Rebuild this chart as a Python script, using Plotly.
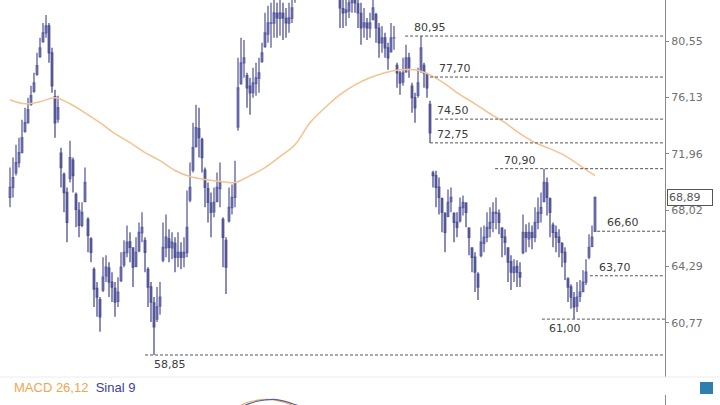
import math
import plotly.graph_objects as go

# ---------------- data ----------------
bar_open = [68.89, 69.58, 70.60, 71.33, 72.04, 73.60, 74.23, 75.60, 76.60, 77.90,
            79.30, 80.50, 81.21, 81.77, 79.60, 76.20, 74.50, 72.00, 70.50, 69.23,
            70.20, 71.50, 69.10, 68.00, 67.00, 68.60, 67.40, 66.10, 64.10, 62.90,
            62.20, 62.80, 63.70, 64.20, 63.30, 62.90, 62.10, 63.40, 64.40, 65.20,
            65.90, 65.50, 64.30, 65.30, 66.50, 66.00, 64.10, 63.00, 62.00, 61.00,
            61.80, 64.70, 65.50, 66.10, 65.50, 65.80, 64.90, 65.20, 64.90, 65.20,
            68.70, 70.80, 72.50, 73.80, 73.00, 70.80, 69.50, 68.50, 67.90, 68.60,
            69.50, 67.40, 66.00, 67.30, 68.20, 68.90, 73.90, 77.20, 78.80, 77.80,
            77.00, 76.50, 77.20, 77.60, 78.90, 80.10, 81.10, 82.00, 82.00, 82.80,
            82.40, 82.80, 82.40, 82.00, 82.40, 84.00, 85.00, 86.00, 86.90, 87.50,
            88.00, 87.60, 87.20, 87.80, 88.20, 87.00, 86.40, 86.00, 85.60, 85.20,
            84.80, 83.20, 82.90, 83.00, 83.70, 84.00, 83.60, 82.80, 81.70, 82.00,
            81.60, 82.30, 82.70, 81.60, 80.40, 80.80, 80.00, 79.70, 80.80, 78.60,
            78.00, 77.30, 78.10, 79.20, 77.00, 76.10, 76.30, 78.20, 78.60, 77.90,
            75.60, 70.60, 70.40, 69.60, 68.80, 67.80, 67.60, 68.60, 67.80, 67.20,
            67.30, 68.20, 68.50, 66.80, 65.50, 64.90, 63.80, 65.00, 65.80, 66.20,
            66.80, 67.20, 67.80, 67.80, 66.80, 66.20, 65.50, 64.60, 63.90, 64.30,
            63.90, 65.20, 66.50, 66.10, 66.50, 66.20, 67.20, 67.80, 68.60, 69.90,
            68.80, 67.00, 66.50, 66.20, 65.80, 65.20, 63.50, 63.00, 62.30, 61.80,
            62.40, 62.70, 63.30, 64.90, 65.60, 66.60]

bar_high = [70.98, 71.69, 72.62, 73.13, 74.45, 75.35, 76.11, 77.02, 78.03, 79.60,
            80.81, 82.02, 82.68, 82.02, 80.00, 76.72, 76.26, 72.40, 70.62, 69.58,
            72.91, 71.69, 69.23, 68.55, 68.55, 70.98, 67.53, 66.20, 64.25, 63.30,
            62.36, 64.89, 65.02, 64.57, 63.93, 63.30, 63.61, 65.21, 66.00, 66.99,
            66.53, 65.54, 66.20, 67.19, 67.87, 66.20, 64.25, 63.30, 62.36, 62.99,
            63.30, 67.19, 67.73, 66.73, 66.53, 66.20, 66.53, 65.87, 66.20, 69.37,
            71.33, 74.23, 75.58, 75.35, 73.13, 70.98, 69.93, 69.23, 69.58, 70.62,
            71.33, 67.53, 66.20, 69.58, 69.79, 71.47, 79.21, 80.81, 80.64, 78.03,
            77.64, 78.42, 78.81, 79.21, 80.40, 82.85, 83.43, 83.68, 84.27, 83.68,
            84.35, 83.68, 83.26, 83.68, 84.52, 86.24, 87.20, 87.80, 88.40, 88.90,
            89.20, 88.80, 88.50, 89.00, 88.60, 88.00, 87.50, 87.00, 86.60, 86.20,
            84.95, 84.52, 84.27, 84.78, 85.12, 84.78, 84.10, 83.68, 83.26, 82.43,
            82.85, 84.10, 82.85, 82.02, 81.77, 81.21, 80.40, 82.02, 81.77, 78.81,
            78.18, 79.21, 80.24, 79.60, 77.25, 76.49, 78.42, 80.95, 78.81, 78.03,
            75.88, 70.75, 70.75, 70.27, 68.89, 67.87, 69.44, 69.58, 67.87, 67.87,
            68.89, 69.03, 68.55, 66.86, 65.54, 65.21, 63.93, 66.86, 66.99, 67.87,
            68.21, 68.55, 68.89, 68.07, 66.86, 66.73, 65.54, 65.02, 64.76, 64.70,
            64.57, 67.73, 67.06, 67.19, 66.99, 68.21, 68.89, 69.23, 70.90, 70.27,
            68.89, 67.19, 66.99, 66.73, 65.87, 65.54, 63.61, 63.17, 62.67, 63.30,
            63.43, 64.06, 64.76, 66.40, 66.99, 68.95]

bar_low = [68.21, 68.89, 70.41, 70.98, 72.04, 73.49, 74.23, 75.50, 76.49, 77.80,
           79.21, 80.40, 80.81, 78.81, 76.49, 73.13, 74.23, 69.58, 67.87, 65.87,
           69.93, 69.23, 66.86, 66.20, 66.86, 68.55, 65.21, 64.57, 61.75, 61.14,
           60.23, 62.67, 63.30, 62.36, 62.05, 61.14, 61.75, 63.30, 64.25, 64.89,
           64.57, 62.99, 64.25, 65.21, 65.87, 63.93, 61.75, 60.83, 58.85, 60.83,
           61.26, 64.57, 64.89, 64.57, 64.76, 63.93, 64.25, 64.12, 64.25, 64.89,
           68.55, 70.62, 72.40, 71.69, 70.62, 68.21, 67.19, 66.20, 67.53, 68.55,
           68.21, 64.25, 62.55, 67.19, 67.73, 68.21, 73.64, 77.10, 77.64, 75.35,
           74.82, 76.11, 76.26, 76.49, 78.81, 80.00, 80.40, 80.00, 80.81, 80.81,
           80.97, 80.64, 80.81, 81.21, 82.02, 83.68, 84.80, 85.40, 86.00, 86.50,
           86.70, 86.30, 86.00, 86.60, 86.20, 85.60, 85.20, 84.80, 84.60, 84.40,
           81.61, 81.61, 81.77, 82.43, 82.85, 82.85, 81.61, 80.24, 80.81, 80.64,
           80.81, 82.27, 80.40, 79.21, 79.60, 79.21, 78.26, 79.60, 79.84, 76.87,
           76.34, 77.02, 78.03, 77.64, 74.97, 74.23, 76.11, 78.03, 76.87, 76.11,
           72.75, 69.58, 68.21, 67.73, 66.53, 65.21, 67.53, 67.87, 65.87, 66.20,
           67.19, 67.66, 66.86, 65.02, 63.93, 62.67, 62.18, 64.89, 65.21, 65.87,
           66.20, 66.53, 66.73, 66.40, 64.89, 65.02, 63.30, 62.80, 63.30, 62.99,
           62.99, 65.08, 65.21, 65.54, 65.41, 65.87, 66.73, 67.19, 68.55, 67.66,
           66.20, 65.54, 65.21, 64.89, 64.25, 63.43, 62.05, 61.63, 61.00, 61.44,
           62.05, 62.67, 63.11, 64.76, 65.54, 66.60]

bar_close = [69.58, 70.27, 71.33, 72.04, 73.13, 74.23, 75.20, 76.26, 77.25, 78.58,
             80.00, 81.21, 81.77, 79.60, 77.02, 74.23, 75.35, 70.98, 69.23, 67.19,
             71.69, 70.41, 68.07, 66.99, 67.87, 69.93, 66.33, 65.21, 62.86, 62.36,
             61.14, 63.61, 64.25, 63.30, 62.99, 62.05, 62.67, 64.25, 65.21, 65.87,
             65.54, 64.25, 65.21, 66.53, 66.86, 65.21, 62.99, 62.05, 60.53, 61.75,
             62.36, 65.54, 66.20, 65.54, 65.87, 64.89, 65.21, 64.89, 65.21, 66.86,
             69.58, 72.40, 73.86, 73.13, 71.69, 69.58, 68.55, 67.87, 68.55, 69.58,
             69.93, 66.20, 64.25, 68.21, 68.89, 69.93, 76.87, 78.81, 79.21, 76.87,
             76.49, 77.25, 77.64, 78.03, 79.60, 81.21, 82.02, 82.02, 82.85, 82.43,
             82.85, 82.43, 82.02, 82.43, 83.26, 84.95, 86.00, 86.90, 87.50, 88.00,
             87.60, 87.20, 87.80, 88.20, 87.00, 86.40, 86.00, 85.60, 85.20, 85.00,
             83.26, 82.85, 83.09, 83.68, 84.10, 83.68, 82.85, 81.61, 82.02, 81.61,
             82.02, 83.26, 81.61, 80.40, 80.81, 80.00, 79.21, 80.81, 80.81, 78.03,
             77.25, 78.03, 79.21, 78.42, 76.11, 75.35, 77.25, 80.00, 78.03, 76.87,
             73.49, 70.41, 69.58, 68.89, 67.87, 66.53, 68.55, 68.89, 67.19, 66.86,
             68.21, 68.55, 67.87, 66.20, 64.89, 63.93, 62.99, 65.87, 66.20, 66.86,
             67.19, 67.87, 67.87, 67.19, 66.20, 65.87, 64.57, 63.93, 64.25, 63.93,
             63.61, 66.53, 66.20, 66.53, 66.20, 67.19, 67.87, 68.21, 69.93, 68.89,
             67.87, 66.53, 66.20, 65.87, 65.21, 64.57, 62.99, 62.36, 61.75, 62.36,
             62.67, 63.30, 63.93, 65.54, 66.20, 68.89]

bar_index = list(range(len(bar_close)))

ma_index = [0, 5, 10, 15, 20, 25, 30, 35, 40, 45,
            50, 55, 60, 65, 70, 75, 80, 85, 90, 95,
            100, 105, 110, 115, 120, 125, 130, 135, 140, 145,
            150, 155, 160, 165, 170, 175, 180, 185, 190, 195]
ma_values = [75.96, 75.65, 75.80, 76.11, 75.65, 74.97, 74.23, 73.42, 72.77, 72.04,
             71.47, 70.77, 70.34, 70.13, 70.00, 69.93, 70.41, 70.98, 71.76, 72.62,
             74.23, 75.35, 76.34, 77.10, 77.64, 78.03, 78.26, 78.26, 77.87, 77.17,
             76.34, 75.65, 74.90, 74.23, 73.42, 72.77, 72.33, 71.83, 71.12, 70.41]

macd_index = [76, 79, 82, 85, 88, 91, 94, 97]
macd_values = [1.60, 2.05, 2.25, 2.37, 2.32, 2.10, 1.80, 1.50]
signal_values = [1.50, 1.85, 2.15, 2.30, 2.36, 2.22, 1.95, 1.65]

level_values = [80.95, 77.70, 74.50, 72.75, 70.90, 66.60, 63.70, 61.00, 58.85]
level_labels = ["80,95", "77,70", "74,50", "72,75", "70,90", "66,60", "63,70", "61,00", "58,85"]
level_from = [131.7, 140.0, 141.7, 140.0, 161.7, 195.7, 193.3, 177.3, 45.0]

tick_values = [80.55, 76.13, 71.96, 68.02, 64.29, 60.77]
tick_labels = ["80,55", "76,13", "71,96", "68,02", "64,29", "60,77"]

last_price = 68.89
last_label = "68,89"

# ---------------- layout constants ----------------
W, H = 720, 405
PLOT_W = 665
X_RANGE = [-3.333, 218.333]
Y_RANGE = [57.57, 83.92]
MAIN_BOTTOM = 377
label_x = [134.0, 142.3, 141.7, 141.7, 164.0, 198.3, 195.7, 179.0, 47.3]
label_below = [False, False, False, False, False, False, False, True, True]

fig = go.Figure()

fig.add_trace(go.Candlestick(
    x=bar_index, open=bar_open, high=bar_high, low=bar_low, close=bar_close,
    increasing=dict(line=dict(color="#5d60a0", width=1.3), fillcolor="#adb0d4"),
    decreasing=dict(line=dict(color="#4e5193", width=1.3), fillcolor="#7275b0"),
    hoverinfo="skip", showlegend=False, xaxis="x", yaxis="y"))

fig.add_trace(go.Scatter(
    x=ma_index, y=ma_values, mode="lines", line=dict(color="#f5c290", width=1.5, shape="spline"),
    hoverinfo="skip", showlegend=False, xaxis="x", yaxis="y"))

for lv, lf in zip(level_values, level_from):
    fig.add_trace(go.Scatter(
        x=[lf, X_RANGE[1]], y=[lv, lv], mode="lines",
        line=dict(color="#555555", width=1, dash="3px,2px"),
        hoverinfo="skip", showlegend=False, xaxis="x", yaxis="y"))

fig.add_trace(go.Scatter(
    x=macd_index, y=macd_values, mode="lines", line=dict(color="#f0a860", width=1.2, shape="spline"),
    hoverinfo="skip", showlegend=False, xaxis="x2", yaxis="y2"))
fig.add_trace(go.Scatter(
    x=macd_index, y=signal_values, mode="lines", line=dict(color="#5a5d9c", width=1.2, shape="spline"),
    hoverinfo="skip", showlegend=False, xaxis="x2", yaxis="y2"))

annotations = []
for lv, txt, lx, below in zip(level_values, level_labels, label_x, label_below):
    annotations.append(dict(
        x=lx, y=math.log10(lv), xref="x", yref="y", text=txt, showarrow=False,
        xanchor="left", yanchor="top" if below else "bottom", yshift=-1 if below else 0,
        font=dict(family="DejaVu Sans", size=11, color="#3c3c3c")))

annotations.append(dict(
    x=667 / PLOT_W, y=math.log10(last_price), xref="paper", yref="y", text=last_label,
    showarrow=False, xanchor="left", yanchor="middle", align="left",
    bordercolor="#555555", borderwidth=1, borderpad=1, bgcolor="white", width=42,
    font=dict(family="DejaVu Sans", size=11, color="#555555")))

annotations.append(dict(
    x=12 / PLOT_W, y=(H - 387) / H, xref="paper", yref="paper", showarrow=False,
    xanchor="left", yanchor="middle",
    text="<span style='color:#f2a550'>MACD 26,12</span>  <span style='color:#3b3f99'>Sinal 9</span>",
    font=dict(family="Liberation Sans", size=13)))

shapes = [
    dict(type="line", xref="paper", yref="paper", x0=0, x1=W / PLOT_W,
         y0=(H - MAIN_BOTTOM) / H, y1=(H - MAIN_BOTTOM) / H,
         line=dict(color="#ececec", width=1)),
    dict(type="rect", xref="paper", yref="paper", x0=700 / PLOT_W, x1=713 / PLOT_W,
         y0=(H - 394) / H, y1=(H - 382) / H, fillcolor="#2f7fae", line=dict(width=0)),
]

fig.update_layout(
    width=W, height=H,
    margin=dict(l=0, r=W - PLOT_W, t=0, b=0),
    paper_bgcolor="white", plot_bgcolor="white",
    showlegend=False,
    xaxis=dict(range=X_RANGE, visible=False, rangeslider=dict(visible=False),
               domain=[0, 1], anchor="y"),
    yaxis=dict(type="log", range=[math.log10(Y_RANGE[0]), math.log10(Y_RANGE[1])],
               domain=[(H - MAIN_BOTTOM) / H, 1], side="right", anchor="x",
               showgrid=False, zeroline=False, showline=True, linecolor="#8a8a8a", linewidth=1,
               ticks="outside", ticklen=3, tickcolor="#8a8a8a",
               tickvals=tick_values, ticktext=tick_labels,
               tickfont=dict(family="DejaVu Sans", size=11, color="#707070")),
    xaxis2=dict(range=X_RANGE, visible=False, matches="x", anchor="y2", domain=[0, 1]),
    yaxis2=dict(range=[1.8, 2.8], domain=[0, 10 / H], side="right", anchor="x2",
                showgrid=False, zeroline=False, showline=True, linecolor="#8a8a8a",
                showticklabels=False, ticks=""),
    annotations=annotations,
    shapes=shapes,
)

fig.write_html("out.html", config={"displayModeBar": False},
               post_script="document.body.style.margin='0';document.body.style.overflow='hidden';")
